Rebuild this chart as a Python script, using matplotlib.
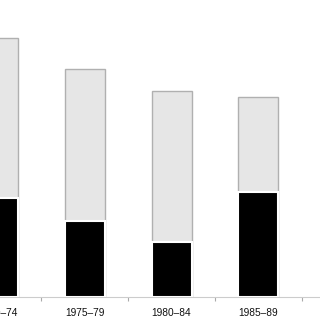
import matplotlib.pyplot as plt
import numpy as np

# Daten (aus dem Bild geschaetzt)
perioden = ['1970–74', '1975–79', '1980–84', '1985–89']
gesamt = [99.6, 87.7, 79.2, 76.9]
anteil = [37.9, 29.4, 21.0, 40.4]

fig = plt.figure(figsize=(3.2, 3.2), dpi=100)
# Achse ragt links ueber den Bildrand hinaus (Ausschnitt wie im Original)
ax = fig.add_axes([-10 / 320, 23 / 320, 330 / 320, 297 / 320])

x = np.arange(len(perioden))
breite = 0.46

# graue Gesamtbalken, schwarze Teilbalken darueber
ax.bar(x, gesamt, width=breite, color='#e6e6e6', edgecolor='#b0b0b0', linewidth=1.0, zorder=2)
ax.bar(x, anteil, width=breite, color='black', edgecolor='white', linewidth=1.5, zorder=3)

ax.set_xticks(x)
ax.set_xticklabels(perioden, fontsize=7.3, family='Liberation Sans', color='#111111')
ax.set_xticks(x + 0.5, minor=True)
ax.tick_params(axis='x', which='major', length=0, pad=8)
ax.tick_params(axis='x', which='minor', length=3, color='#aaaaaa', width=0.8)
ax.set_yticks([])

# Grenzen erst nach den Ticks setzen
ax.set_xlim(-0.092, 3.71)
ax.set_ylim(0, 297 / 2.6)

for s in ['top', 'left', 'right']:
    ax.spines[s].set_visible(False)
ax.spines['bottom'].set_color('#cccccc')
ax.spines['bottom'].set_linewidth(0.8)

fig.savefig('out.png', dpi=100, facecolor='white')
